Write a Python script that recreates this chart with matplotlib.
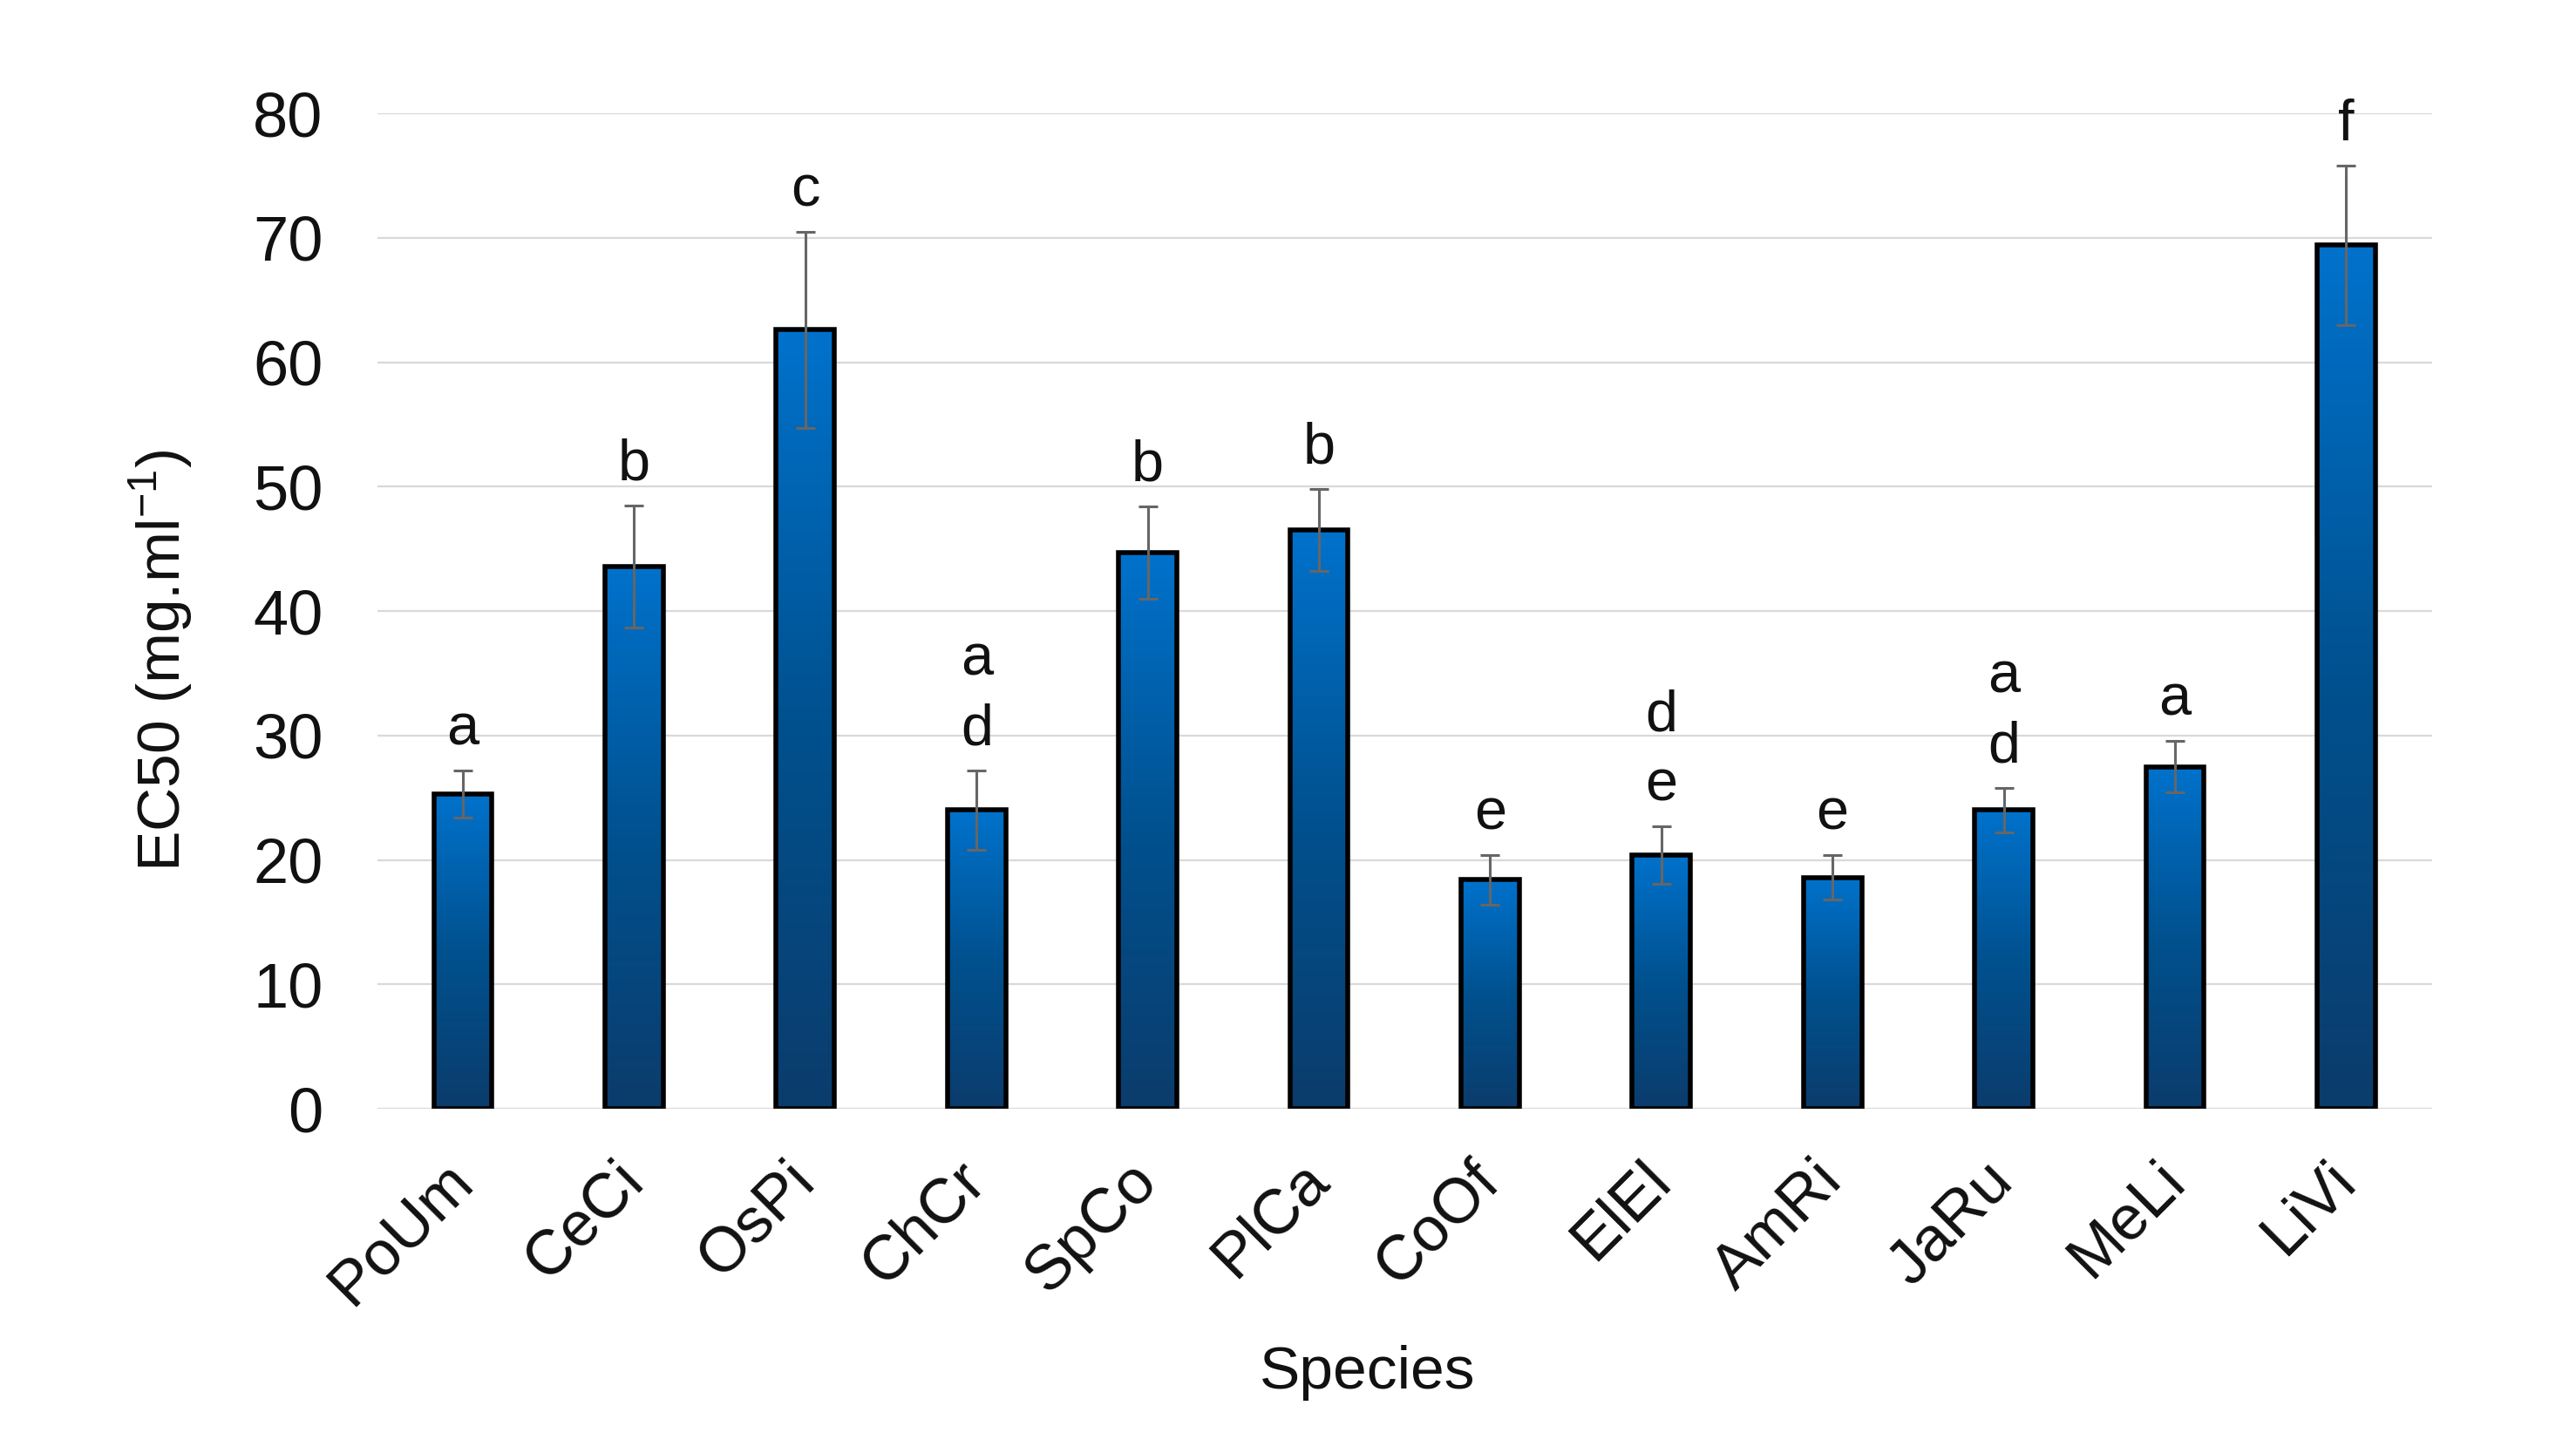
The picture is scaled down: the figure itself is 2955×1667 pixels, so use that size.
import numpy as np
import matplotlib.pyplot as plt
from matplotlib.colors import LinearSegmentedColormap

plt.rcParams['font.family'] = ['Liberation Sans', 'DejaVu Sans']

# data
species = ['PoUm', 'CeCi', 'OsPi', 'ChCr', 'SpCo', 'PlCa',
           'CoOf', 'ElEl', 'AmRi', 'JaRu', 'MeLi', 'LiVi']
ec50 = [25.3, 43.6, 62.6, 24.0, 44.7, 46.5, 18.4, 20.4, 18.6, 24.0, 27.5, 69.4]
err = [1.9, 4.9, 7.9, 3.2, 3.7, 3.3, 2.0, 2.3, 1.8, 1.8, 2.1, 6.4]
letters = ['a', 'b', 'c', 'a\nd', 'b', 'b', 'e', 'd\ne', 'e', 'a\nd', 'a', 'f']

fig = plt.figure(figsize=(29.55, 16.67), dpi=100)
ax = fig.add_axes([0.1465, 0.2369, 0.7975, 0.6851])

x = np.arange(len(species))
bars = ax.bar(x, ec50, width=0.34, color='none', edgecolor='black',
              linewidth=4, zorder=3)

# vertical gradient inside every bar: light blue at top, navy at bottom
cmap = LinearSegmentedColormap.from_list('bluegrad', ['#0B3C6C', '#00518F', '#0072CC'])
grad = np.linspace(0, 1, 256).reshape(-1, 1)
for b in bars:
    x0, w, h = b.get_x(), b.get_width(), b.get_height()
    im = ax.imshow(grad, extent=[x0, x0 + w, 0, h], origin='lower',
                   aspect='auto', cmap=cmap, zorder=2.5)
    im.set_clip_path(b)

ax.errorbar(x, ec50, yerr=err, fmt='none', ecolor='#666666',
            elinewidth=2.2, capsize=8, capthick=2.2, zorder=4)

# significance letters above the error bars
for i, lab in enumerate(letters):
    lines = lab.split('\n')
    for k, ch in enumerate(reversed(lines)):
        ax.annotate(ch, (x[i], ec50[i] + err[i]), xytext=(0, 21 + k * 58),
                    textcoords='offset points', ha='center', va='baseline',
                    fontsize=48, color='#111111', annotation_clip=False)

ax.set_xlim(-0.5, len(species) - 0.5)
ax.set_ylim(0, 80)
ax.set_yticks(np.arange(0, 81, 10))
ax.yaxis.grid(True, color='#D9D9D9', linewidth=1.6, zorder=0)
ax.set_axisbelow(True)
for s in ax.spines.values():
    s.set_visible(False)

ax.tick_params(axis='both', length=0, labelsize=52, colors='#111111')
ax.tick_params(axis='y', pad=45)
ax.set_xticks(x)
ax.set_xticklabels(species, rotation=45, ha='right', va='center',
                   rotation_mode='anchor')
ax.tick_params(axis='x', pad=52)

ax.set_ylabel('EC50 (mg.ml$^{\\mathregular{-1}}$)', fontsize=50, color='#111111')
ax.yaxis.set_label_coords(-0.089, 0.45)
ax.set_xlabel('Species', fontsize=50, color='#111111')
ax.xaxis.set_label_coords(0.482, -0.237)

fig.savefig('out.png', dpi=100)
